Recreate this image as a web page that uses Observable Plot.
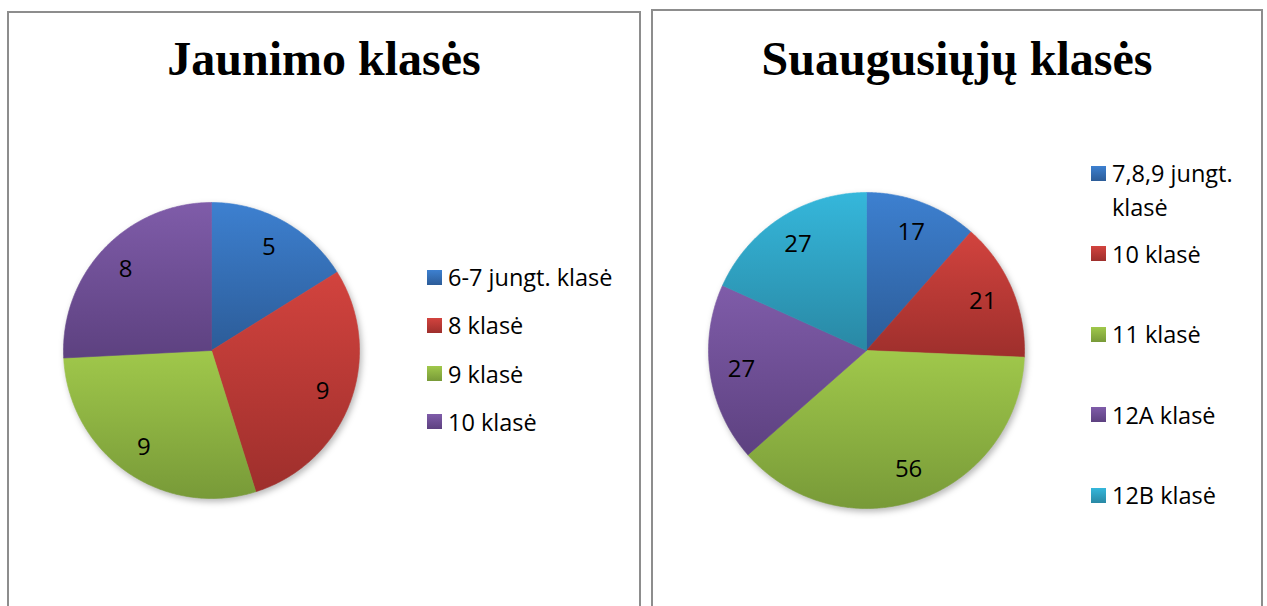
<!DOCTYPE html>
<html>
<head>
<meta charset="utf-8">
<script src="https://cdn.jsdelivr.net/npm/d3@7"></script>
<script src="https://cdn.jsdelivr.net/npm/@observablehq/plot@0.6"></script>
<style>
  html, body { margin: 0; padding: 0; background: #fff; }
  #root { position: relative; width: 1267px; height: 606px; overflow: hidden; background: #fff; }
  .panel { position: absolute; box-sizing: border-box; border: 2px solid #8d8d8d; height: 640px; }
  .title { position: absolute; left: 0; right: 0; text-align: center; font-family: "Liberation Serif", "Times New Roman", serif; font-weight: bold; font-size: 48px; line-height: 48px; color: #000; white-space: nowrap; }
  .pie { position: absolute; }
  .legend-row { position: absolute; display: flex; align-items: flex-start; font-family: "Open Sans", sans-serif; font-size: 23.5px; line-height: 34px; color: #000; }
  .swatch { width: 15px; height: 15px; flex: none; margin-top: 9.5px; margin-right: 6px; }
</style>
</head>
<body>
<div id="root"></div>
<script>
// ---- data ----
const leftTitle = "Jaunimo klasės";
const leftCategories = ["6-7 jungt. klasė", "8 klasė", "9 klasė", "10 klasė"];
const leftValues = [5, 9, 9, 8];

const rightTitle = "Suaugusiųjų klasės";
const rightCategories = ["7,8,9 jungt. klasė", "10 klasė", "11 klasė", "12A klasė", "12B klasė"];
const rightValues = [17, 21, 56, 27, 27];

const colorsTop = ["#3d80d0", "#d2433e", "#a0c84b", "#7f5ca9", "#35b7db"];
const colorsBottom = ["#2c5c98", "#9e2f2c", "#789a38", "#5d4180", "#2988a4"];

// ---- layout ----
const root = document.getElementById("root");

function addPanel(left, top, width, title) {
  const p = document.createElement("div");
  p.className = "panel";
  p.style.left = left + "px";
  p.style.top = top + "px";
  p.style.width = width + "px";
  root.appendChild(p);
  const t = document.createElement("div");
  t.className = "title";
  t.style.top = (35 - top - 2) + "px";
  t.textContent = title;
  p.appendChild(t);
}

function addPie(values, cx, cy, R, idPrefix) {
  const pad = 16;
  const S = R + pad;
  const arcs = d3.pie().sort(null).value(d => d)(values);
  const pts = [];
  arcs.forEach((a, i) => {
    pts.push({k: i, x: 0, y: 0});
    const steps = Math.max(2, Math.ceil((a.endAngle - a.startAngle) / (Math.PI / 360)));
    for (let j = 0; j <= steps; j++) {
      const ang = a.startAngle + (a.endAngle - a.startAngle) * j / steps;
      pts.push({k: i, x: R * Math.sin(ang), y: R * Math.cos(ang)});
    }
    pts.push({k: i, x: 0, y: 0});
  });
  const labels = arcs.map((a, i) => {
    const m = (a.startAngle + a.endAngle) / 2;
    return {x: 0.8 * R * Math.sin(m), y: 0.8 * R * Math.cos(m), text: String(values[i])};
  });
  const svg = Plot.plot({
    width: 2 * S,
    height: 2 * S,
    margin: 0,
    style: {overflow: "visible", background: "transparent"},
    x: {domain: [-S, S], axis: null},
    y: {domain: [-S, S], axis: null},
    marks: [
      Plot.line(pts, {
        x: "x", y: "y", z: "k",
        fill: d => `url(#${idPrefix}${d.k})`,
        stroke: d => `url(#${idPrefix}${d.k})`,
        strokeWidth: 0.6
      }),
      Plot.text(labels, {
        x: "x", y: "y", text: "text",
        fontSize: 24, fontFamily: "Open Sans", fill: "#000"
      })
    ]
  });
  const ns = "http://www.w3.org/2000/svg";
  const defs = document.createElementNS(ns, "defs");
  values.forEach((v, i) => {
    const g = document.createElementNS(ns, "linearGradient");
    g.setAttribute("id", idPrefix + i);
    g.setAttribute("x1", "0"); g.setAttribute("y1", "0");
    g.setAttribute("x2", "0"); g.setAttribute("y2", "1");
    [[0, colorsTop[i]], [1, colorsBottom[i]]].forEach(([o, c]) => {
      const s = document.createElementNS(ns, "stop");
      s.setAttribute("offset", o);
      s.setAttribute("stop-color", c);
      g.appendChild(s);
    });
    defs.appendChild(g);
  });
  svg.insertBefore(defs, svg.firstChild);
  const lineG = svg.querySelector('g[aria-label="line"]');
  if (lineG) lineG.style.filter = "drop-shadow(2px 3px 3px rgba(0,0,0,0.28))";
  svg.classList.add("pie");
  svg.style.position = "absolute";
  svg.style.left = (cx - S) + "px";
  svg.style.top = (cy - S) + "px";
  root.appendChild(svg);
}

function addLegend(categories, x, top0, step, textWidth) {
  categories.forEach((c, i) => {
    const row = document.createElement("div");
    row.className = "legend-row";
    row.style.left = x + "px";
    row.style.top = (top0 + i * step) + "px";
    const sw = document.createElement("div");
    sw.className = "swatch";
    sw.style.background = `linear-gradient(${colorsTop[i]}, ${colorsBottom[i]})`;
    const tx = document.createElement("div");
    tx.textContent = c;
    tx.style.maxWidth = textWidth + "px";
    row.appendChild(sw);
    row.appendChild(tx);
    root.appendChild(row);
  });
}

addPanel(7, 11, 634, leftTitle);
addPanel(651, 9, 612, rightTitle);

addPie(leftValues, 211, 350, 148, "gl");
addPie(rightValues, 866, 350, 158, "gr");

addLegend(leftCategories, 427, 260, 48.3, 200);
addLegend(rightCategories, 1091, 156, 80.5, 145);
</script>
</body>
</html>
